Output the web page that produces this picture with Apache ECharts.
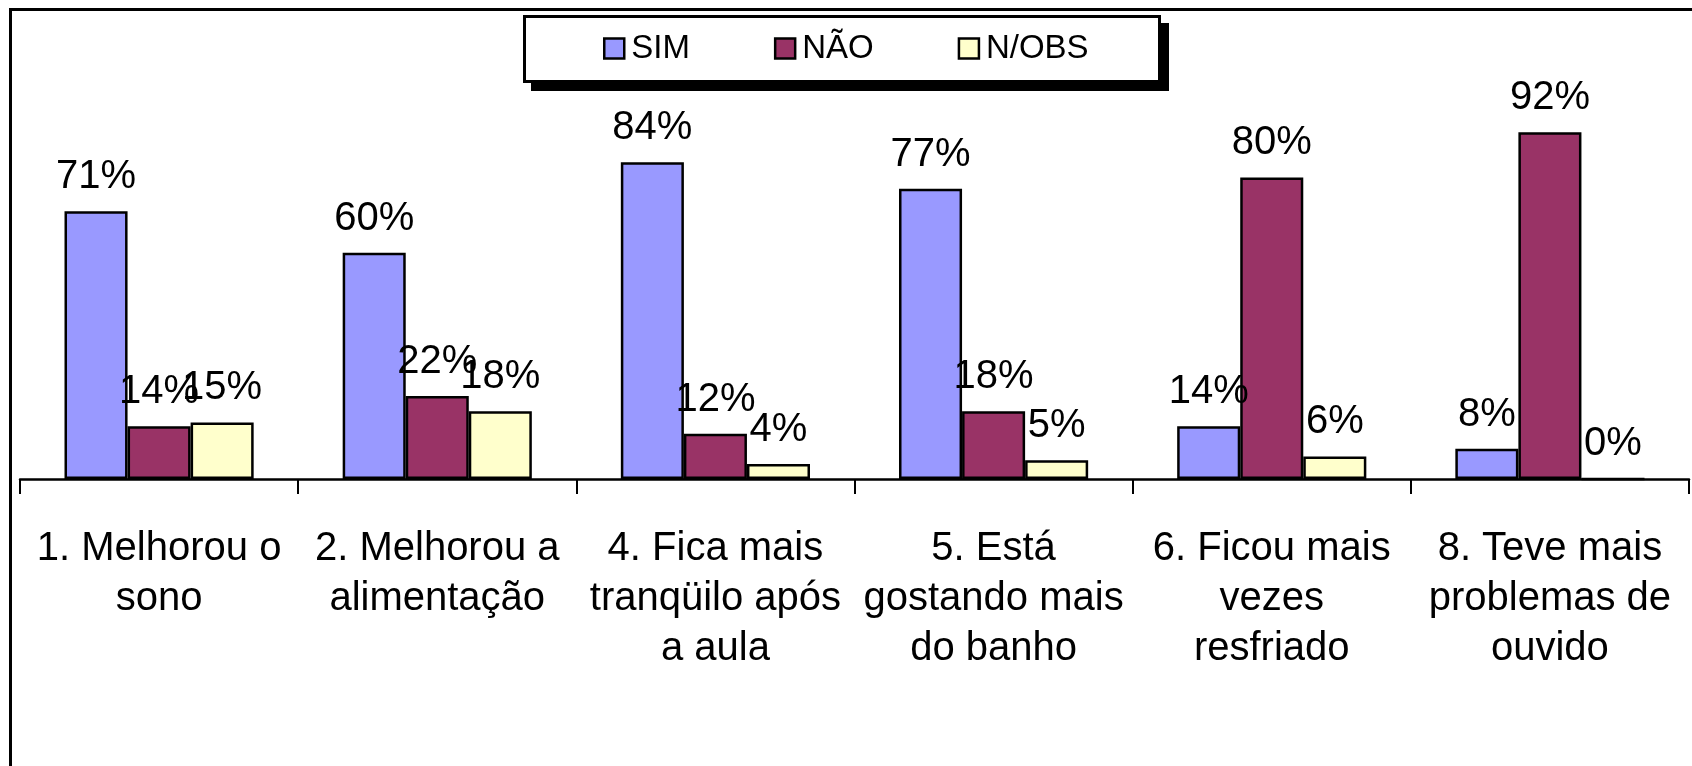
<!DOCTYPE html>
<html>
<head>
<meta charset="utf-8">
<script src="https://cdn.jsdelivr.net/npm/echarts@6/dist/echarts.min.js"></script>
<style>
  html, body { margin: 0; padding: 0; background: #fff; }
  #chart { width: 1692px; height: 766px; }
</style>
</head>
<body>
<div id="chart"></div>
<script>
// categorias e valores (%)
var categories = [
  "1. Melhorou o\nsono",
  "2. Melhorou a\nalimentação",
  "4. Fica mais\ntranqüilo após\na aula",
  "5. Está\ngostando mais\ndo banho",
  "6. Ficou mais\nvezes\nresfriado",
  "8. Teve mais\nproblemas de\nouvido"
];
var seriesNames = ["SIM", "NÃO", "N/OBS"];
var simValues = [71, 60, 84, 77, 14, 8];
var naoValues = [14, 22, 12, 18, 80, 92];
var nobsValues = [15, 18, 4, 5, 6, 0];
var colors = ["#9999FF", "#993366", "#FFFFCC"];

var font = "'Liberation Sans', Arial, sans-serif";

function makeSeries(name, data, color) {
  return {
    name: name,
    type: "bar",
    data: data,
    barGap: "0%",
    barCategoryGap: "32%",
    itemStyle: { color: color, borderColor: "#000", borderWidth: 2.5 },
    label: {
      show: true,
      position: "top",
      distance: 14,
      formatter: "{c}%",
      color: "#000",
      fontSize: 40,
      fontFamily: font
    }
  };
}

var chart = echarts.init(document.getElementById("chart"));
var option = {
  animation: false,
  backgroundColor: "#fff",
  graphic: [
    // moldura do gráfico
    {
      type: "rect",
      shape: { x: 10.5, y: 9.5, width: 1720, height: 800 },
      style: { fill: "none", stroke: "#000", lineWidth: 3 },
      z: 100
    },
    // caixa da legenda com sombra
    {
      type: "rect",
      shape: { x: 531, y: 23, width: 638, height: 68 },
      style: { fill: "#000" },
      z: 1
    },
    {
      type: "rect",
      shape: { x: 524.5, y: 16.5, width: 635, height: 65 },
      style: { fill: "#fff", stroke: "#000", lineWidth: 3 },
      z: 2
    }
  ],
  legend: {
    left: 523,
    top: 15,
    padding: [17, 76, 17, 80],
    itemGap: 84,
    itemWidth: 20,
    itemHeight: 20,
    icon: "rect",
    itemStyle: { borderColor: "#000", borderWidth: 2.5 },
    textStyle: { color: "#000", fontSize: 33, fontFamily: font, padding: [0, 0, 0, 2] },
    z: 10,
    data: seriesNames
  },
  grid: { left: 20, right: 3, top: 102, bottom: 287, containLabel: false },
  xAxis: {
    type: "category",
    data: categories,
    axisLine: { lineStyle: { color: "#000", width: 2.5 } },
    axisTick: { show: true, length: 15, lineStyle: { color: "#000", width: 2 } },
    axisLabel: {
      interval: 0,
      margin: 45,
      color: "#000",
      fontSize: 40,
      lineHeight: 50,
      fontFamily: font,
      align: "center"
    }
  },
  yAxis: {
    type: "value",
    min: 0,
    max: 100,
    show: false
  },
  series: [
    makeSeries(seriesNames[0], simValues, colors[0]),
    makeSeries(seriesNames[1], naoValues, colors[1]),
    makeSeries(seriesNames[2], nobsValues, colors[2])
  ]
};
chart.setOption(option);
</script>
</body>
</html>
